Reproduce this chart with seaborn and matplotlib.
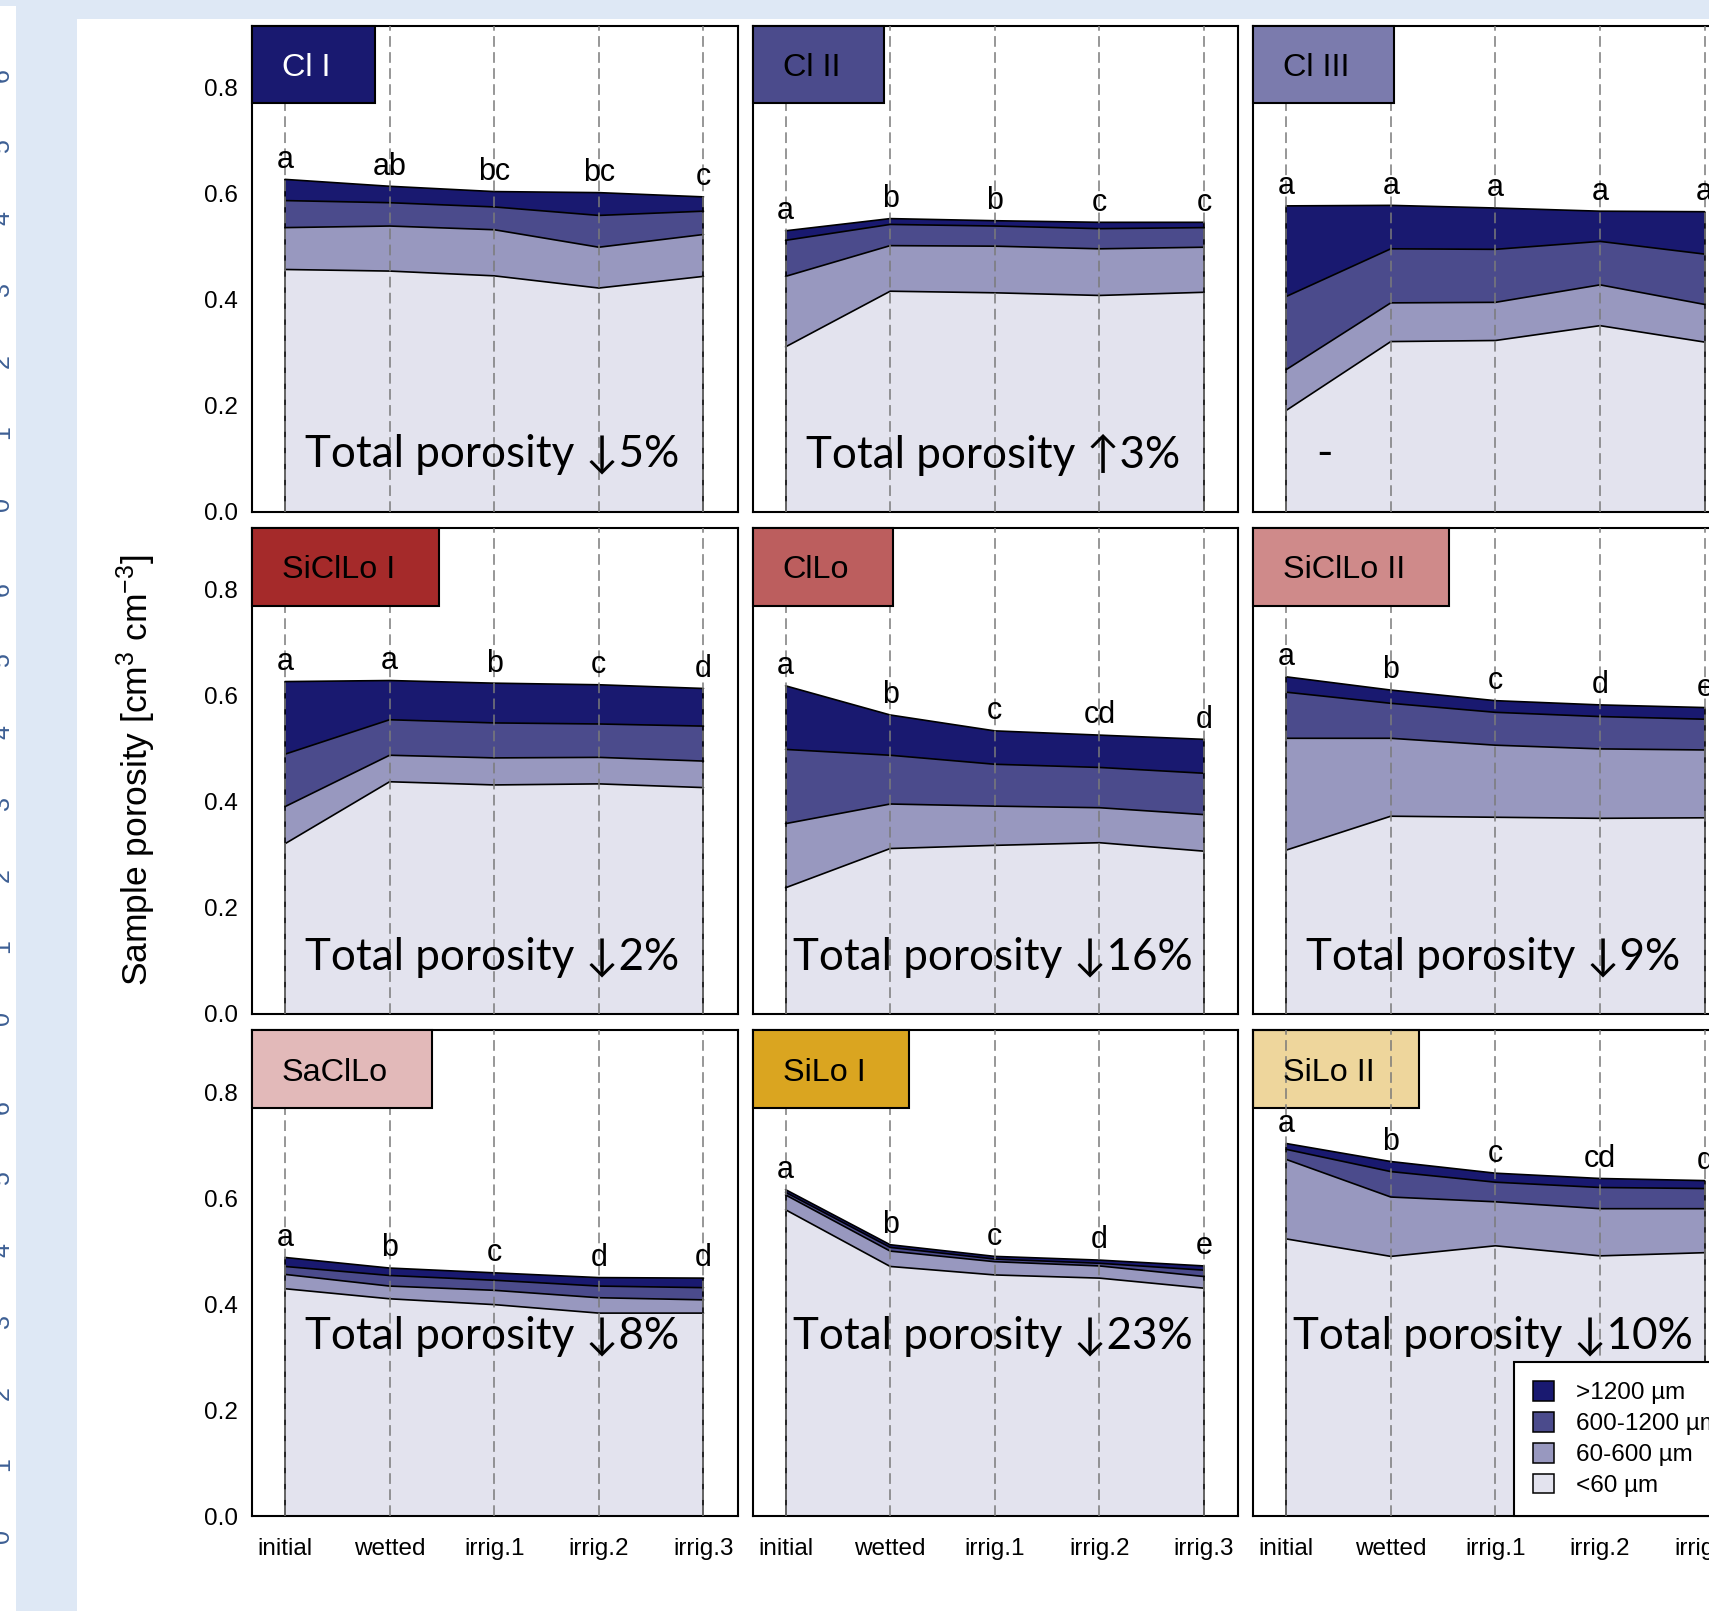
import numpy as np
import pandas as pd
import matplotlib
matplotlib.use("Agg")
import matplotlib.pyplot as plt
import seaborn as sns
from matplotlib.patches import Rectangle, Patch

# ---------------------------------------------------------------- data
stages = ["initial", "wetted", "irrig.1", "irrig.2", "irrig.3"]
pore_classes = ["<60 µm", "60-600 µm", "600-1200 µm", ">1200 µm"]
class_colors = ["#e3e3ee", "#9898bf", "#4b4b8c", "#191970"]

soils = ["Cl I", "Cl II", "Cl III", "SiClLo I", "ClLo", "SiClLo II",
         "SaClLo", "SiLo I", "SiLo II"]
soil_colors = ["#191970", "#4b4b8c", "#7b7bad", "#a52a2a", "#bc5e5e",
               "#cf8a8a", "#e2b9b9", "#daa520", "#eed69c"]
soil_text_colors = ["white"] + ["black"] * 8

# porosity [cm3 cm-3] per pore class (rows: <60, 60-600, 600-1200, >1200 µm)
# at each stage (columns: initial, wetted, irrig.1, irrig.2, irrig.3)
cl_1 = [[0.457, 0.454, 0.445, 0.422, 0.444],
        [0.079, 0.085, 0.087, 0.077, 0.079],
        [0.051, 0.044, 0.043, 0.060, 0.044],
        [0.040, 0.031, 0.029, 0.043, 0.027]]
cl_2 = [[0.311, 0.416, 0.413, 0.408, 0.414],
        [0.133, 0.086, 0.088, 0.088, 0.085],
        [0.068, 0.040, 0.038, 0.038, 0.037],
        [0.018, 0.011, 0.010, 0.012, 0.010]]
cl_3 = [[0.191, 0.321, 0.323, 0.351, 0.320],
        [0.077, 0.073, 0.072, 0.077, 0.071],
        [0.138, 0.102, 0.100, 0.082, 0.095],
        [0.171, 0.082, 0.078, 0.057, 0.080]]
sicllo_1 = [[0.321, 0.438, 0.432, 0.434, 0.427],
            [0.070, 0.050, 0.051, 0.050, 0.050],
            [0.099, 0.067, 0.066, 0.063, 0.066],
            [0.137, 0.074, 0.075, 0.074, 0.071]]
cllo = [[0.238, 0.312, 0.318, 0.323, 0.307],
        [0.121, 0.084, 0.074, 0.066, 0.069],
        [0.140, 0.092, 0.079, 0.076, 0.078],
        [0.120, 0.076, 0.063, 0.061, 0.064]]
sicllo_2 = [[0.309, 0.373, 0.371, 0.369, 0.370],
            [0.211, 0.147, 0.136, 0.131, 0.128],
            [0.087, 0.066, 0.062, 0.061, 0.058],
            [0.029, 0.025, 0.022, 0.022, 0.022]]
sacllo = [[0.429, 0.410, 0.399, 0.383, 0.383],
          [0.027, 0.024, 0.027, 0.029, 0.025],
          [0.015, 0.020, 0.019, 0.022, 0.023],
          [0.017, 0.014, 0.014, 0.016, 0.018]]
silo_1 = [[0.578, 0.471, 0.455, 0.449, 0.430],
          [0.028, 0.029, 0.025, 0.023, 0.022],
          [0.005, 0.007, 0.005, 0.005, 0.012],
          [0.005, 0.005, 0.005, 0.006, 0.008]]
silo_2 = [[0.523, 0.490, 0.510, 0.491, 0.497],
          [0.150, 0.112, 0.083, 0.089, 0.083],
          [0.019, 0.048, 0.037, 0.040, 0.038],
          [0.011, 0.019, 0.017, 0.017, 0.015]]
porosity = [cl_1, cl_2, cl_3, sicllo_1, cllo, sicllo_2, sacllo, silo_1, silo_2]

# letters from the post-hoc comparison of total porosity between stages
letters = [["a", "ab", "bc", "bc", "c"],
           ["a", "b", "b", "c", "c"],
           ["a", "a", "a", "a", "a"],
           ["a", "a", "b", "c", "d"],
           ["a", "b", "c", "cd", "d"],
           ["a", "b", "c", "d", "e"],
           ["a", "b", "c", "d", "d"],
           ["a", "b", "c", "d", "e"],
           ["a", "b", "c", "cd", "d"]]
change_significant = [True, True, False, True, True, True, True, True, True]

# ---------------------------------------------------------------- long table
records = []
for soil, arr in zip(soils, porosity):
    arr = np.asarray(arr)
    cum = arr.cumsum(axis=0)
    for k, cls in enumerate(pore_classes):
        for j, st in enumerate(stages):
            records.append(dict(soil=soil, pos=j + 1, stage=st, pore_class=cls,
                                value=arr[k, j], upper=cum[k, j],
                                lower=cum[k, j] - arr[k, j]))
df = pd.DataFrame(records)

# ---------------------------------------------------------------- style
sns.set_theme(style="white")
plt.rcParams["font.family"] = ["Liberation Sans", "DejaVu Sans"]
plt.rcParams["mathtext.fontset"] = "custom"
plt.rcParams["mathtext.rm"] = "Liberation Sans"
plt.rcParams["mathtext.it"] = "Liberation Sans:italic"
plt.rcParams["mathtext.bf"] = "Liberation Sans:bold"
for key in ("text.color", "axes.labelcolor", "xtick.color", "ytick.color"):
    plt.rcParams[key] = "black"
ANNOT_FONT = ["Lato", "DejaVu Sans"]

W, H = 1709, 1611
fig = plt.figure(figsize=(W / 100, H / 100), dpi=100, facecolor="#dee8f5")
fig.patches.append(Rectangle((77 / W, 0), 1, 1 - 18.5 / H, transform=fig.transFigure,
                             facecolor="white", edgecolor="none", zorder=-10))
fig.patches.append(Rectangle((0, 0), 16 / W, 1 - 6 / H, transform=fig.transFigure,
                             facecolor="white", edgecolor="none", zorder=-10))
for start in (75, 589, 1107):
    for k, d in enumerate("6543210"):
        fig.text(2 / W, 1 - (start + k * 71.5) / H, d, rotation=90, ha="center",
                 va="center", fontsize=18, color="#3d5f94")

AX_L0, AX_T0, AX_W, AX_H = 252, 26, 485.5, 485.7
COL_STEP, ROW_STEP = 500.6, 502.2
XMIN, XMAX, YMAX = 0.685, 5.325, 0.9164
BOX_H = 77.5

axes = []
for i, soil in enumerate(soils):
    r, c = divmod(i, 3)
    x0 = AX_L0 + c * COL_STEP
    y0 = AX_T0 + r * ROW_STEP
    ax = fig.add_axes([x0 / W, 1 - (y0 + AX_H) / H, AX_W / W, AX_H / H])
    axes.append(ax)
    sub = df[df.soil == soil]

    for cls, colr in zip(pore_classes, class_colors):
        d = sub[sub.pore_class == cls]
        ax.fill_between(d.pos, d.lower, d.upper, facecolor=colr,
                        edgecolor="none", zorder=1)
    sns.lineplot(data=sub, x="pos", y="upper", units="pore_class", estimator=None,
                 color="black", lw=1.2, ax=ax, zorder=2, legend=False)
    tot = sub[sub.pore_class == pore_classes[-1]].sort_values("pos")
    ax.vlines([1, 5], 0, [tot.upper.iloc[0], tot.upper.iloc[-1]],
              colors="black", lw=1.2, zorder=2)
    ax.vlines(range(1, 6), 0, YMAX, colors="#7a7a7a",
              linestyles=(0, (7, 3.5)), lw=1.1, zorder=3)

    for pos, total, lab in zip(tot.pos, tot.upper, letters[i]):
        ax.text(pos, total + 0.022, lab, ha="center", va="baseline",
                fontsize=22, zorder=6)

    ytxt = 0.107 if r < 2 else 0.338
    if change_significant[i]:
        pct = 100 * (tot.upper.iloc[-1] / tot.upper.iloc[0] - 1)
        arrow = "\u2191" if pct > 0 else "\u2193"
        ax.text(2.98, ytxt, f"Total porosity {arrow}{abs(pct):.0f}%", ha="center",
                va="center", fontsize=31.7, family=ANNOT_FONT, color="black",
                zorder=7)
    else:
        ax.text(1.37, ytxt, "-", ha="center", va="center", fontsize=32,
                family=ANNOT_FONT, color="black", zorder=7)

    ax.set_xlim(XMIN, XMAX)
    ax.set_ylim(0, YMAX)
    ax.set_xlabel("")
    ax.set_ylabel("")
    ax.set_facecolor("white")
    for sp in ax.spines.values():
        sp.set_color("black")
        sp.set_linewidth(1.5)
    ax.set_xticks(range(1, 6))
    ax.set_yticks([0, 0.2, 0.4, 0.6, 0.8])
    ax.tick_params(axis="both", direction="out", length=8, width=1.1,
                   color="black", labelsize=17.5, labelcolor="black")
    ax.tick_params(axis="x", pad=8)
    ax.tick_params(axis="y", pad=2)
    if r == 2:
        ax.set_xticklabels(stages)
    else:
        ax.tick_params(axis="x", length=0, labelbottom=False)
    if c == 0:
        ax.set_yticklabels(["0.0", "0.2", "0.4", "0.6", "0.8"])
    else:
        ax.tick_params(axis="y", length=0, labelleft=False)

    ax.text(30 / AX_W, 1 - (BOX_H / 2 + 3.5) / AX_H, soil, transform=ax.transAxes,
            ha="left", va="center", fontsize=23.3, color=soil_text_colors[i],
            zorder=9, gid=f"boxlabel{i}")

# legend in the last panel
leg_ax = axes[-1]
handles = [Patch(facecolor=colr, edgecolor="black", lw=1.1) for colr in class_colors[::-1]]
leg = leg_ax.legend(handles, pore_classes[::-1], loc="lower right",
                    bbox_to_anchor=(1, 0), borderaxespad=0, frameon=True,
                    fancybox=False, edgecolor="black", framealpha=1, fontsize=17.5,
                    handlelength=0.85, handleheight=0.85, handletextpad=0.9,
                    labelspacing=0.32, borderpad=0.78)
leg.get_frame().set_linewidth(1.5)
leg.set_zorder(10)

fig.text(136 / W, 1 - 770 / H, r"Sample porosity [cm$^{3}$ cm$^{-3}$]",
         rotation=90, ha="center", va="center", fontsize=25.5)

# label boxes sized to their text
fig.canvas.draw()
renderer = fig.canvas.get_renderer()
for i, ax in enumerate(axes):
    txt = [t for t in ax.texts if t.get_gid() == f"boxlabel{i}"][0]
    bb = txt.get_window_extent(renderer)
    abb = ax.get_window_extent(renderer)
    wfrac = (bb.x1 + 44 - abb.x0) / abb.width
    z = 2.5 if i == len(axes) - 1 else 8
    ax.add_patch(Rectangle((0, 1 - BOX_H / AX_H), wfrac, BOX_H / AX_H,
                           transform=ax.transAxes, facecolor=soil_colors[i],
                           edgecolor="black", lw=1.5, zorder=z, clip_on=False))

fig.savefig("out.png", dpi=100, facecolor=fig.get_facecolor())
